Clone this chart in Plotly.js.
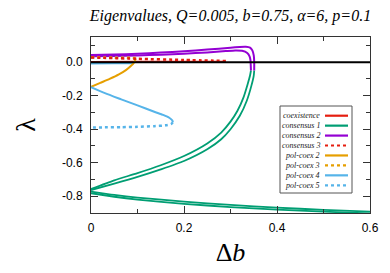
<!DOCTYPE html>
<html>
<head>
<meta charset="utf-8">
<script src="https://cdn.plot.ly/plotly-3.0.1.min.js"></script>
<style>html,body{margin:0;padding:0;background:#fff;}#chart{width:390px;height:273px;}</style>
</head>
<body>
<div id="chart"></div>
<script>
// ---- data ----
const greenUpperAX = [0, 0.05, 0.1, 0.15, 0.2, 0.25, 0.28, 0.3, 0.32, 0.335, 0.345, 0.35, 0.351];
const greenUpperAY = [-0.763, -0.725, -0.685, -0.64, -0.59, -0.52, -0.46, -0.40, -0.32, -0.23, -0.14, -0.08, -0.05];
const greenUpperBX = [0, 0.05, 0.1, 0.15, 0.2, 0.25, 0.28, 0.3, 0.315, 0.328, 0.337, 0.342, 0.344];
const greenUpperBY = [-0.757, -0.705, -0.662, -0.615, -0.56, -0.485, -0.42, -0.355, -0.29, -0.21, -0.13, -0.08, -0.05];
const greenLowerX  = [0, 0.05, 0.1, 0.2, 0.3, 0.4, 0.5, 0.6];
const greenLowerAY = [-0.772, -0.792, -0.808, -0.832, -0.852, -0.868, -0.881, -0.892];
const greenLowerBY = [-0.782, -0.803, -0.82, -0.845, -0.865, -0.88, -0.892, -0.902];

const purpleUpperX = [0, 0.05, 0.1, 0.15, 0.2, 0.25, 0.3, 0.32, 0.333, 0.342, 0.347, 0.35, 0.351, 0.351];
const purpleUpperY = [0.042, 0.045, 0.05, 0.057, 0.065, 0.075, 0.086, 0.091, 0.092, 0.087, 0.07, 0.04, 0.0, -0.05];
const purpleLowerX = [0, 0.05, 0.1, 0.15, 0.2, 0.25, 0.29, 0.31, 0.325, 0.336, 0.341, 0.343, 0.344];
const purpleLowerY = [0.035, 0.037, 0.04, 0.044, 0.05, 0.058, 0.066, 0.07, 0.068, 0.055, 0.035, 0.01, -0.05];

const coexX = [0, 0.1, 0.2, 0.29];
const coexY = [0.001, 0.002, 0.003, 0.003];
const cons3X = [0, 0.1, 0.2, 0.29];
const cons3Y = [0.028, 0.02, 0.013, 0.007];

const polcoex2X = [0, 0.02, 0.04, 0.06, 0.075, 0.085, 0.092, 0.096];
const polcoex2Y = [-0.148, -0.124, -0.1, -0.073, -0.048, -0.025, -0.005, 0.018];
const polcoex3X = [0, 0.05, 0.096];
const polcoex3Y = [0.029, 0.027, 0.025];

const polcoex4TopX = [0, 0.05, 0.092];
const polcoex4TopY = [-0.008, -0.007, -0.006];
const polcoex4X = [0, 0.03, 0.065, 0.1, 0.136, 0.155, 0.169, 0.175, 0.176];
const polcoex4Y = [-0.149, -0.185, -0.222, -0.258, -0.296, -0.315, -0.333, -0.348, -0.358];
const polcoex5TopX = [0, 0.05, 0.092];
const polcoex5TopY = [0.028, 0.026, 0.024];
const polcoex5X = [0.176, 0.172, 0.16, 0.136, 0.1, 0.065, 0.03, 0];
const polcoex5Y = [-0.358, -0.370, -0.377, -0.382, -0.386, -0.388, -0.389, -0.39];

const legendLabels = ['coexistence', 'consensus 1', 'consensus 2', 'consensus 3',
                      'pol-coex 2', 'pol-coex 3', 'pol-coex 4', 'pol-coex 5'];
const yTickVals = [0, -0.2, -0.4, -0.6, -0.8];
const yTickText = ['0.0', '-0.2', '-0.4', '-0.6', '-0.8'];
const xTickVals = [0, 0.2, 0.4, 0.6];
const xTickText = ['0', '0.2', '0.4', '0.6'];

// ---- styles ----
const RED = '#e51e10', GREEN = '#009e73', PURPLE = '#9400d3', ORANGE = '#e69f00', BLUE = '#56b4e9';
const styles = [
  {color: RED, dash: 'solid'},
  {color: GREEN, dash: 'solid'},
  {color: PURPLE, dash: 'solid'},
  {color: RED, dash: '3px,3px'},
  {color: ORANGE, dash: 'solid'},
  {color: ORANGE, dash: '3px,3px'},
  {color: BLUE, dash: 'solid'},
  {color: BLUE, dash: '3px,3px'}
];

function tr(x, y, idx, w, sm) {
  return {x: x, y: y, type: 'scatter', mode: 'lines', name: legendLabels[idx], showlegend: false,
          line: {color: styles[idx].color, dash: styles[idx].dash, width: w || 2, shape: 'spline',
                 smoothing: sm === undefined ? 0.6 : sm},
          hoverinfo: 'skip'};
}

const traces = [
  tr(greenUpperAX, greenUpperAY, 1, 1.8),
  tr(greenUpperBX, greenUpperBY, 1, 1.8),
  tr(greenLowerX, greenLowerAY, 1, 1.8),
  tr(greenLowerX, greenLowerBY, 1, 1.8),
  tr(purpleUpperX, purpleUpperY, 2, 2, 0.3),
  tr(purpleLowerX, purpleLowerY, 2, 2, 0.3),
  tr(coexX, coexY, 0),
  tr(polcoex4TopX, polcoex4TopY, 6),
  tr(polcoex2X, polcoex2Y, 4),
  tr(polcoex4X, polcoex4Y, 6),
  tr(polcoex5X, polcoex5Y, 7, 2.5),
  tr(polcoex5TopX, polcoex5TopY, 7, 2.5),
  tr(polcoex3X, polcoex3Y, 5, 2.5),
  tr(cons3X, cons3Y, 3, 2.5)
];

// ---- layout ----
const M = {l: 91, r: 20, t: 37, b: 60};
const W = 390, H = 273;
const PW = W - M.l - M.r, PH = H - M.t - M.b;
const px2x = px => (px - M.l) / PW;
const py2y = py => (H - M.b - py) / PH;

const shapes = [
  {type: 'line', xref: 'paper', x0: 0, x1: 1, yref: 'y', y0: 0, y1: 0, layer: 'above',
   line: {color: '#000', width: 2}},
  {type: 'rect', xref: 'paper', yref: 'paper', x0: px2x(280), x1: px2x(352), y0: py2y(106), y1: py2y(193),
   fillcolor: '#fff', line: {color: '#555', width: 1}, layer: 'above'}
];
const annotations = [];
legendLabels.forEach((lab, i) => {
  const py = 115.7 + 9.94 * i;
  annotations.push({xref: 'paper', yref: 'paper', x: px2x(321.5), y: py2y(py), xanchor: 'right', yanchor: 'middle',
    text: lab, showarrow: false, font: {family: 'Liberation Serif', size: 8, style: 'italic', color: '#222'}});
  shapes.push({type: 'line', xref: 'paper', yref: 'paper', x0: px2x(325), x1: px2x(348), y0: py2y(py), y1: py2y(py),
    layer: 'above', line: {color: styles[i].color, width: 2.2, dash: styles[i].dash}});
});

const axisCommon = {
  showgrid: false, zeroline: false, showline: true, linecolor: '#333', linewidth: 1,
  mirror: 'allticks', ticks: 'inside', ticklen: 7, tickcolor: '#333', tickwidth: 1,
  tickfont: {family: 'Liberation Sans', size: 12, color: '#000'},
  minor: {ticks: 'inside', ticklen: 4, dtick: 0.1, tick0: 0, tickcolor: '#333', showgrid: false}
};

const layout = {
  width: W, height: H, margin: M, paper_bgcolor: '#fff', plot_bgcolor: '#fff', showlegend: false,
  title: {text: 'Eigenvalues, Q=0.005, b=0.75, α=6, p=0.1', x: 0.5, xref: 'paper', xanchor: 'center',
          y: 1 - 15 / H, yref: 'container', yanchor: 'middle',
          font: {family: 'Liberation Serif', size: 16, style: 'italic', color: '#000'}},
  xaxis: Object.assign({}, axisCommon, {range: [0, 0.6], tickmode: 'array', tickvals: xTickVals, ticktext: xTickText,
          ticklabelstandoff: 4,
          title: {text: 'Δ<i>b</i>', standoff: 8, font: {family: 'Liberation Serif', size: 26, color: '#000'}}}),
  yaxis: Object.assign({}, axisCommon, {range: [-0.9, 0.15], tickmode: 'array', tickvals: yTickVals, ticktext: yTickText,
          ticklabelstandoff: 5,
          title: {text: 'λ', standoff: 18, font: {family: 'Liberation Serif', size: 28, color: '#000'}}}),
  shapes: shapes, annotations: annotations
};

Plotly.newPlot('chart', traces, layout, {staticPlot: true, displayModeBar: false});
</script>
</body>
</html>
